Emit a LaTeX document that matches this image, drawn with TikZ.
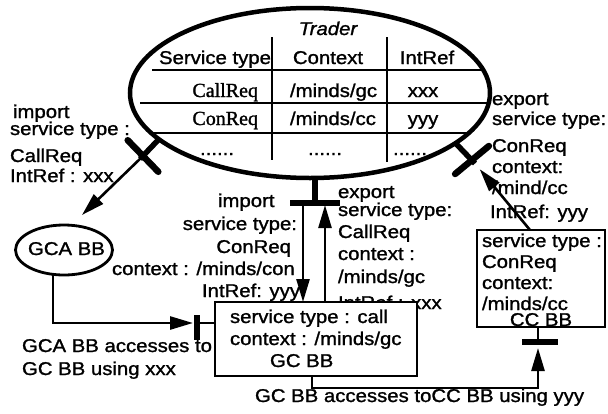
\documentclass[tikz,border=0pt]{standalone}
\usepackage{fontspec}
\setmainfont[FakeStretch=1.1,FakeBold=1.3]{Liberation Sans}
\newfontfamily\tabserif[FakeBold=1.3]{Liberation Serif}
\usetikzlibrary{arrows.meta,shapes.geometric,calc}
\newcommand\fs{\fontsize{18.5}{22}\selectfont}

\begin{document}
\begin{tikzpicture}[x=1pt,y=1pt,
  every node/.style={inner sep=0pt, outer sep=0pt, font=\fs},
  lbl/.style={anchor=base west},
  lblr/.style={anchor=base east},
  lblc/.style={anchor=base},
  conn/.style={line width=2.6pt},
  arr/.style={conn, -{Triangle[length=23pt,width=13pt]}},
  crossbar/.style={line width=6.5pt},
  stem/.style={line width=5.5pt},
  box/.style={draw, rectangle, line width=2.6pt, fill=white},
  rule/.style={line width=2.6pt}
]
\useasboundingbox (0,0) rectangle (608,-413);

% ---- export label of GC BB (its last line disappears under the box)
\node[lbl] (ex1) at (338,-198) {export};
\node[lbl] (ex2) at (338,-216) {service type:};
\node[lbl] (ex3) at (338,-238) {CallReq};
\node[lbl] (ex4) at (338,-260) {context :};
\node[lbl] (ex5) at (338,-283) {/minds/gc};
\node[lbl] (ex6) at (338,-309) {IntRef : xxx};

% ---- the trader with its table
\node[draw, ellipse, line width=4.5pt, minimum width=360pt, minimum height=170pt] (trader) at (310,-93) {};
\begin{scope}
  \clip (310,-93) ellipse [x radius=180, y radius=85];
  \draw[rule] (152,-70) -- (500,-70);
  \draw[rule] (140,-103) -- (500,-103);
  \draw[rule] (140,-133) -- (500,-133);
\end{scope}
\draw[rule] (272,-37) -- (272,-160);
\draw[rule] (387,-37) -- (387,-162);
\node[lblc, font=\fs\itshape] (trd) at (328,-35) {Trader};
\node[lblr] (h1) at (271,-64) {Service type};
\node[lblc] (h2) at (328,-64) {Context};
\node[lblc] (h3) at (427,-64) {IntRef};
\node[lblr, font=\fontsize{20}{22}\tabserif] (r1a) at (258,-97) {CallReq};
\node[lbl] (r1b) at (290,-97) {/minds/gc};
\node[lblc] (r1c) at (423,-97) {xxx};
\node[lblr, font=\fontsize{20}{22}\tabserif] (r2a) at (258,-125) {ConReq};
\node[lbl] (r2b) at (290,-125) {/minds/cc};
\node[lblc] (r2c) at (423,-125) {yyy};
\node[lblc] (r3a) at (217,-155) {......};
\node[lblc] (r3b) at (325,-155) {......};
\node[lblc] (r3c) at (410,-155) {......};

% ---- building blocks
\node[draw, ellipse, line width=2.8pt, minimum width=97pt, minimum height=50pt] (gca) at (64,-250) {};
\node[lbl] (gcat) at (28,-255) {GCA BB};
\node[box, minimum width=202pt, minimum height=74pt] (gc) at (316,-339) {};
\node[lbl] (gc1) at (230,-323) {service type : call};
\node[lbl] (gc2) at (230,-345) {context : /minds/gc};
\node[lbl] (gc3) at (270,-367) {GC BB};
\node[box, minimum width=128pt, minimum height=97pt] (cc) at (541,-278.5) {};
\node[lbl] (cc1) at (482,-247) {service type :};
\node[lbl] (cc2) at (482,-268) {ConReq};
\node[lbl] (cc3) at (482,-289) {context:};
\node[lbl] (cc4) at (482,-310) {/minds/cc};
\node[lblc] (cc5) at (541,-326) {CC BB};

% ---- labels
\node[lbl] (li1) at (13,-118) {import};
\node[lbl] (li2) at (10,-135) {service type :};
\node[lbl] (li3) at (10,-162) {CallReq};
\node[lbl] (li4) at (10,-182) {IntRef : xxx};
\node[lbl] (mi1) at (218,-207) {import};
\node[lblr] (mi2) at (297,-230) {service type:};
\node[lblr] (mi3) at (291,-253) {ConReq};
\node[lbl] (mi4) at (112,-275) {context : /minds/con};
\node[lblr] (mi5) at (300,-297) {IntRef: yyy};
\node[lbl] (re1) at (492,-105) {export};
\node[lbl] (re2) at (492,-125) {service type:};
\node[lbl] (re3) at (492,-152) {ConReq};
\node[lbl] (re4) at (492,-173) {context:};
\node[lbl] (re5) at (492,-194) {/mind/cc};
\node[lbl] (re6) at (490,-218) {IntRef: yyy};
\node[lbl] (ga1) at (22,-352) {GCA BB accesses to};
\node[lbl] (ga2) at (22,-375) {GC BB using xxx};
\node[lbl] (gb1) at (255,-402) {GC BB accesses toCC BB using yyy};

% ---- import of CallReq by GCA BB
\coordinate (xl) at (143,-156);
\coordinate (tipl) at (82,-215);
\draw[stem] (trader.197.4) -- ($(xl)+(-3,-3)$);
\draw[crossbar, line cap=round] ($(xl)+(-15.3,15.8)$) -- ($(xl)+(15.3,-15.8)$);
\draw[arr] (xl) -- (tipl);

% ---- export of ConReq by CC BB
\coordinate (xr) at (472,-160);
\coordinate (tipr) at (479.7,-169.2);
\draw[stem] (trader.341.8) -- ($(xr)+(3,-3.5)$);
\draw[crossbar, line cap=round] ($(xr)+(-16.9,-14)$) -- ($(xr)+(16.9,14)$);
\draw[arr] (cc.north -| 530,0) -- (tipr);

% ---- GC BB: import of ConReq and export of CallReq
\coordinate (xm) at (315,-203);
\draw[stem] (xm |- trader.south) -- (xm);
\draw[crossbar] ($(xm)+(-25,0)$) -- ($(xm)+(25,0)$);
\draw[arr] (303,-203) -- (gc.north -| 303,0);
\draw[arr] (gc.north -| 325,0) -- (325,-205);

% ---- GCA BB accesses GC BB
\coordinate (tipg) at (193,-323);
\coordinate (barg) at (197,-323);
\draw[arr] (gca.south -| 53,0) |- (tipg);
\draw[crossbar] ($(barg)+(0,8)$) -- ($(barg)+(0,-17)$);
\draw[conn] (barg) -- (gc.west |- barg);

% ---- GC BB accesses CC BB
\coordinate (tipc) at (538,-348);
\coordinate (barc) at (538,-342);
\draw[arr] (gc.south -| 312,0) -- ++(0,-12) -| (tipc);
\draw[crossbar] ($(barc)+(-16,0)$) -- ($(barc)+(20,0)$);
\draw[conn] (barc) -- (cc.south -| barc);
\end{tikzpicture}
\end{document}
